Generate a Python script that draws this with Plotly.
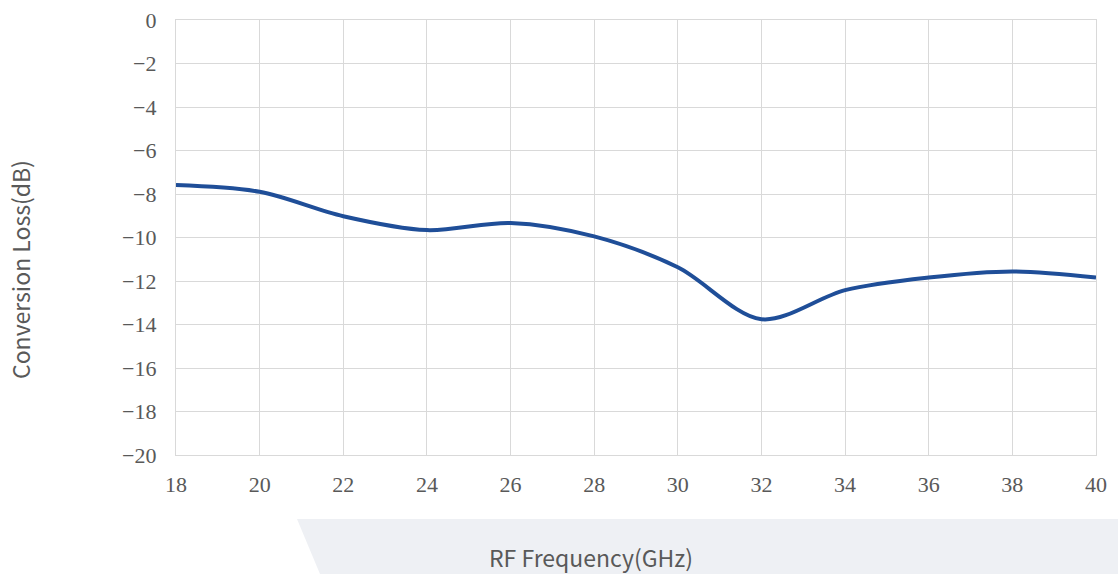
import plotly.graph_objects as go

freq_ghz = [18, 20, 22, 24, 26, 28, 30, 32, 34, 36, 38, 40]
conv_loss_db = [-7.59, -7.9, -9.02, -9.66, -9.33, -9.95, -11.37, -13.76, -12.42, -11.84, -11.56, -11.84]
x_ticks = list(range(18, 41, 2))
y_ticks = list(range(-20, 1, 2))

W, H = 1118, 574
L, R, T, B = 176, 1096, 20, 455

def px(x):
    return (x - L) / (R - L)

def py(y):
    return (B - y) / (B - T)

fig = go.Figure()
fig.add_trace(go.Scatter(
    x=freq_ghz, y=conv_loss_db, mode="lines",
    line=dict(color="#1f4e98", width=4, shape="spline", smoothing=0.9),
    showlegend=False, hoverinfo="x+y",
))

grid = "#d9d9d9"
tickfont = dict(family="Liberation Serif, DejaVu Serif, serif", size=22, color="#595959")
fig.update_xaxes(range=[18, 40], tickvals=x_ticks, showgrid=True, gridcolor=grid, gridwidth=1.3,
                 showline=True, linecolor=grid, linewidth=1.3, mirror=True, zeroline=False,
                 tickfont=tickfont, ticks="", ticklabelstandoff=9, ticklabeloverflow="allow",
                 automargin=False)
fig.update_yaxes(range=[-20, 0], tickvals=y_ticks, showgrid=True, gridcolor=grid, gridwidth=1.3,
                 showline=True, linecolor=grid, linewidth=1.3, mirror=True, zeroline=False,
                 tickfont=tickfont, ticks="", ticklabelstandoff=14, ticklabeloverflow="allow",
                 automargin=False)

path = "M {} {} L {} {} L {} {} L {} {} Z".format(
    px(297), py(519), px(1118), py(519), px(1118), py(574), px(320), py(574))
fig.add_shape(type="path", path=path, xref="paper", yref="paper",
              fillcolor="#eef0f4", line=dict(width=0), layer="below")

titlefont = dict(family="Noto Sans CJK SC, Open Sans, sans-serif", size=23, color="#595959")
fig.add_annotation(text="RF Frequency(GHz)", x=px(591), y=py(557), xref="paper", yref="paper",
                   showarrow=False, font=titlefont, xanchor="center", yanchor="middle")
fig.add_annotation(text="Conversion Loss(dB)", x=px(20), y=py(270), xref="paper", yref="paper",
                   showarrow=False, font=titlefont, textangle=-90, xanchor="center", yanchor="middle")

fig.update_layout(
    width=W, height=H,
    margin=dict(l=L, r=W - R, t=T, b=H - B, autoexpand=False),
    plot_bgcolor="white", paper_bgcolor="white",
)
fig.write_html("out.html", config={"displayModeBar": False},
               post_script="document.body.style.margin='0';document.body.style.overflow='hidden';")
